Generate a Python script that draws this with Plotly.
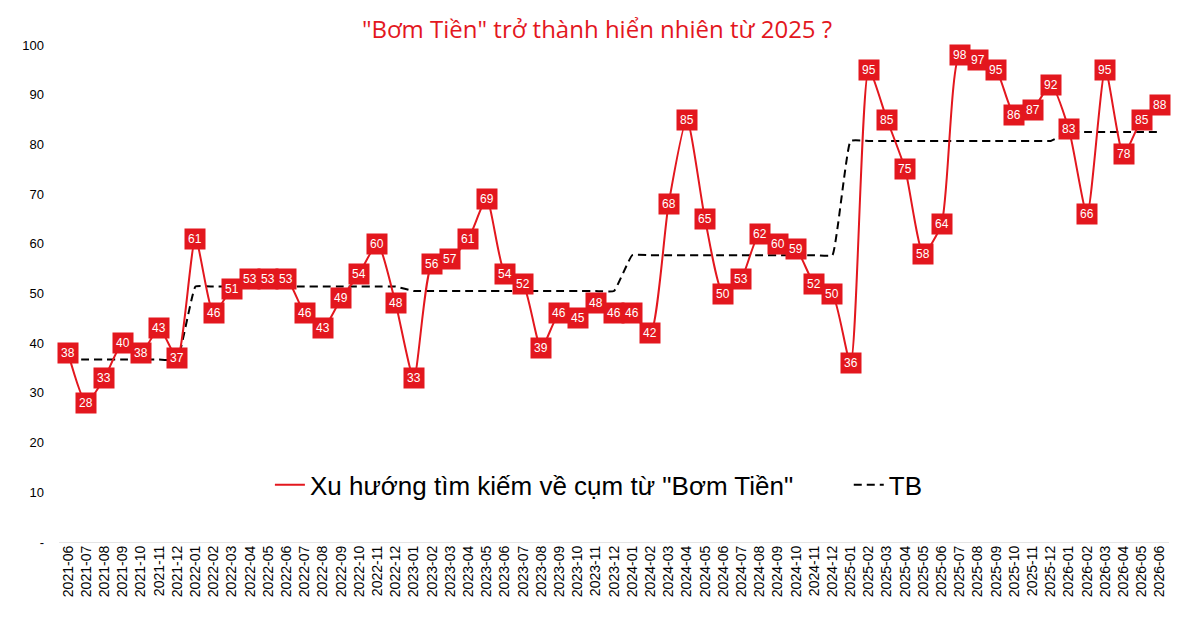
import plotly.graph_objects as go

# thang (truc x)
months = ["2021-06", "2021-07", "2021-08", "2021-09", "2021-10", "2021-11", "2021-12",
          "2022-01", "2022-02", "2022-03", "2022-04", "2022-05", "2022-06",
          "2022-07", "2022-08", "2022-09", "2022-10", "2022-11", "2022-12",
          "2023-01", "2023-02", "2023-03", "2023-04", "2023-05", "2023-06",
          "2023-07", "2023-08", "2023-09", "2023-10", "2023-11", "2023-12",
          "2024-01", "2024-02", "2024-03", "2024-04", "2024-05", "2024-06",
          "2024-07", "2024-08", "2024-09", "2024-10", "2024-11", "2024-12",
          "2025-01", "2025-02", "2025-03", "2025-04", "2025-05", "2025-06",
          "2025-07", "2025-08", "2025-09", "2025-10", "2025-11", "2025-12",
          "2026-01", "2026-02", "2026-03", "2026-04", "2026-05", "2026-06"]

# xu huong tim kiem
search = [38, 28, 33, 40, 38, 43, 37,
          61, 46, 51, 53, 53, 53, 46, 43, 49, 54, 60, 48,
          33, 56, 57, 61, 69, 54, 52, 39, 46, 45, 48, 46,
          46, 42, 68, 85, 65, 50, 53, 62, 60, 59, 52, 50,
          36, 95, 85, 75, 58, 64, 98, 97, 95, 86, 87, 92,
          83, 66, 95, 78, 85, 88]

# trung binh theo nam
tb = [36.7] * 7 + [51.4] * 12 + [50.5] * 12 + [57.7] * 12 + [80.7] * 12 + [82.5] * 6

y_ticks = [0, 10, 20, 30, 40, 50, 60, 70, 80, 90, 100]
y_ticktext = ["-", "10", "20", "30", "40", "50", "60", "70", "80", "90", "100"]

red = "#e3171e"

fig = go.Figure()

fig.add_trace(go.Scatter(
    x=months, y=tb, mode="lines", name="TB",
    line=dict(color="black", width=2, dash="8px,5px", shape="spline", smoothing=0.3),
))

fig.add_trace(go.Scatter(
    x=months, y=search, mode="lines",
    name='Xu hướng tìm kiếm về cụm từ "Bơm Tiền"' + "&nbsp;" * 7,
    line=dict(color=red, width=2, shape="spline", smoothing=0.6),
))

# nhan so lieu: hop do, chu trang
for m, v in zip(months, search):
    fig.add_annotation(
        x=m, y=v, text=str(v), showarrow=False,
        font=dict(family="Liberation Sans, Arial", size=12, color="white"),
        bgcolor=red, borderpad=3,
    )

# trang co le ~8px quanh figure
fig.update_layout(
    width=1184, height=611,
    paper_bgcolor="white", plot_bgcolor="white",
    margin=dict(l=51, r=23, t=37, b=77),
    title=dict(
        text='"Bơm Tiền" trở thành hiển nhiên từ 2025 ?',
        x=0.4975, xanchor="center", y=0.964, yanchor="middle",
        font=dict(family="Open Sans, Noto Sans", size=24, color=red),
    ),
    legend=dict(
        orientation="h", x=0.19, xanchor="left", y=0.115, yanchor="middle",
        font=dict(family="Liberation Sans, Arial", size=26, color="black"),
        bgcolor="rgba(0,0,0,0)", traceorder="reversed",
    ),
    showlegend=True,
)

fig.update_xaxes(
    type="category", range=[-0.5, len(months) - 0.5],
    tickangle=-90, showgrid=False, zeroline=False,
    showline=False, ticks="",
    tickfont=dict(family="Liberation Sans, Arial", size=14, color="black"),
)

fig.update_yaxes(
    range=[0, 100], tickvals=y_ticks, ticktext=y_ticktext,
    showgrid=False, zeroline=True, zerolinecolor="#e4e4e4", zerolinewidth=1,
    showline=False, ticks="", ticklabelstandoff=14,
    tickfont=dict(family="Liberation Sans, Arial", size=13, color="black"),
)

fig.write_html("out.html")
